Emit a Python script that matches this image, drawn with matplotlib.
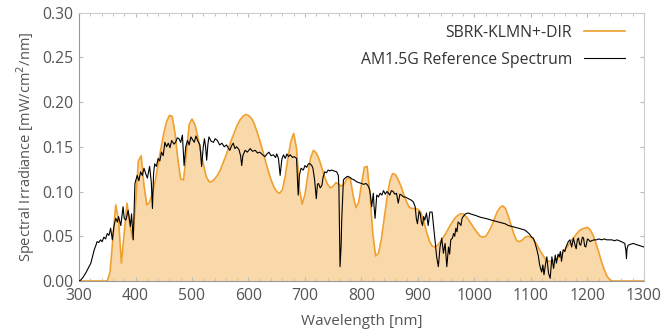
import numpy as np
import matplotlib
matplotlib.use("Agg")
import matplotlib.pyplot as plt
from matplotlib.ticker import MultipleLocator, FormatStrFormatter

plt.rcParams['font.family'] = ['Open Sans', 'DejaVu Sans']

# SBRK-KLMN+-DIR spectrum, sampled every 5 nm from 300 to 1300 nm
sbrk_wl = list(range(300, 1305, 5))
sbrk_val = [
    0, 0, 0, 0, 0, 0, 0, 0, 0, 0,
    0.000, 0.010, 0.048, 0.085, 0.068, 0.020, 0.053, 0.087, 0.063, 0.047,
    0.084, 0.134, 0.140, 0.107, 0.085, 0.088, 0.098, 0.112, 0.130, 0.148,
    0.165, 0.178, 0.185, 0.184, 0.165, 0.136, 0.114, 0.113, 0.142, 0.175,
    0.181, 0.175, 0.162, 0.146, 0.131, 0.117, 0.111, 0.111, 0.114, 0.118,
    0.124, 0.132, 0.140, 0.149, 0.158, 0.166, 0.174, 0.180, 0.184, 0.186,
    0.185, 0.182, 0.176, 0.167, 0.157, 0.146, 0.134, 0.123, 0.113, 0.105,
    0.100, 0.098, 0.102, 0.117, 0.138, 0.156, 0.165, 0.148, 0.103, 0.086,
    0.097, 0.118, 0.138, 0.146, 0.143, 0.136, 0.126, 0.116, 0.108, 0.104,
    0.106, 0.110, 0.108, 0.106, 0.109, 0.115, 0.115, 0.096, 0.082, 0.088,
    0.108, 0.127, 0.128, 0.097, 0.053, 0.028, 0.031, 0.046, 0.069, 0.092,
    0.111, 0.120, 0.119, 0.113, 0.106, 0.096, 0.088, 0.082, 0.081, 0.081,
    0.080, 0.077, 0.067, 0.055, 0.045, 0.039, 0.038, 0.040, 0.044, 0.049,
    0.054, 0.060, 0.065, 0.070, 0.073, 0.075, 0.075, 0.072, 0.068, 0.063,
    0.058, 0.054, 0.050, 0.049, 0.050, 0.055, 0.061, 0.069, 0.077, 0.082,
    0.084, 0.081, 0.072, 0.062, 0.052, 0.045, 0.044, 0.046, 0.049, 0.050,
    0.049, 0.046, 0.041, 0.035, 0.030, 0.025, 0.022, 0.022, 0.023, 0.024,
    0.027, 0.031, 0.035, 0.039, 0.044, 0.048, 0.052, 0.056, 0.058, 0.059,
    0.060, 0.057, 0.051, 0.042, 0.032, 0.021, 0.012, 0.005, 0.001,
    0, 0, 0, 0, 0, 0, 0, 0, 0, 0, 0, 0,
]

# AM1.5G reference spectrum
am15_wl = [
    300, 303, 307, 312, 316, 321, 325, 327, 330, 332, 335, 338, 341, 344, 347,
    350, 353, 356, 359, 362, 365, 368, 370, 374, 378, 380, 383, 387, 391, 393,
    396, 399, 403, 406, 409, 412, 415, 418, 421, 425, 428, 430, 432, 434, 437,
    440, 443, 446, 449, 452, 455, 458, 461, 464, 468, 471, 474, 477, 480, 483,
    486, 489, 492, 495, 498, 501, 504, 507, 510, 514, 517, 520, 522, 524, 526,
    528, 530, 534, 538, 541, 545, 549, 553, 557, 561, 564, 567, 570, 573, 576,
    579, 583, 586, 588, 590, 594, 598, 603, 607, 612, 616, 620, 625, 629, 633,
    636, 640, 644, 648, 650, 653, 656, 659, 662, 665, 668, 671, 674, 678, 681,
    685, 687, 688, 690, 693, 697, 700, 703, 706, 709, 712, 714, 717, 720, 722,
    724, 727, 730, 732, 735, 738, 741, 744, 747, 751, 756, 759, 760, 762, 764,
    765, 768, 771, 775, 779, 783, 787, 791, 795, 800, 804, 808, 811, 814, 816,
    818, 821, 822, 824, 827, 830, 833, 836, 839, 842, 845, 848, 850, 853, 856,
    859, 862, 865, 868, 871, 874, 877, 880, 883, 886, 889, 892, 895, 897, 899,
    902, 904, 906, 908, 910, 912, 915, 918, 921, 925, 927, 929, 931, 933, 936,
    939, 942, 945, 948, 951, 954, 956, 958, 961, 963, 965, 967, 969, 971, 974,
    976, 978, 980, 984, 989, 993, 998, 1003, 1007, 1012, 1019, 1025, 1030, 1036, 1042,
    1048, 1054, 1060, 1066, 1072, 1078, 1083, 1089, 1093, 1098, 1101, 1104, 1107, 1110, 1113,
    1115, 1117, 1119, 1121, 1123, 1126, 1128, 1131, 1134, 1137, 1140, 1143, 1145, 1148, 1150,
    1152, 1154, 1157, 1160, 1162, 1166, 1169, 1172, 1175, 1178, 1180, 1182, 1184, 1186, 1188,
    1191, 1193, 1195, 1197, 1200, 1202, 1205, 1207, 1212, 1216, 1220, 1225, 1230, 1234, 1239,
    1243, 1248, 1252, 1256, 1260, 1263, 1266, 1268, 1269, 1270, 1272, 1276, 1281, 1285, 1290,
    1295, 1300,
]
am15_val = [
    0.000, 0.001, 0.004, 0.009, 0.014, 0.020, 0.030, 0.035, 0.040, 0.044, 0.043, 0.046, 0.044, 0.049, 0.047,
    0.053, 0.051, 0.059, 0.046, 0.062, 0.070, 0.066, 0.072, 0.062, 0.083, 0.070, 0.068, 0.079, 0.061, 0.075,
    0.046, 0.109, 0.118, 0.112, 0.122, 0.118, 0.126, 0.120, 0.115, 0.128, 0.110, 0.081, 0.120, 0.131, 0.128,
    0.137, 0.134, 0.144, 0.140, 0.155, 0.150, 0.154, 0.149, 0.157, 0.153, 0.155, 0.160, 0.159, 0.155, 0.163,
    0.129, 0.150, 0.157, 0.152, 0.161, 0.158, 0.155, 0.162, 0.157, 0.152, 0.128, 0.150, 0.159, 0.150, 0.135,
    0.152, 0.161, 0.156, 0.155, 0.159, 0.157, 0.152, 0.154, 0.150, 0.152, 0.149, 0.146, 0.151, 0.154, 0.148,
    0.150, 0.147, 0.140, 0.129, 0.140, 0.146, 0.144, 0.148, 0.145, 0.146, 0.143, 0.144, 0.141, 0.139, 0.142,
    0.144, 0.140, 0.141, 0.138, 0.142, 0.137, 0.118, 0.136, 0.141, 0.137, 0.142, 0.139, 0.141, 0.138, 0.139,
    0.137, 0.110, 0.096, 0.118, 0.126, 0.124, 0.129, 0.127, 0.131, 0.131, 0.129, 0.126, 0.113, 0.092, 0.108,
    0.109, 0.104, 0.107, 0.116, 0.122, 0.121, 0.124, 0.123, 0.124, 0.123, 0.122, 0.118, 0.105, 0.016, 0.040,
    0.068, 0.113, 0.115, 0.117, 0.116, 0.114, 0.113, 0.111, 0.110, 0.109, 0.108, 0.109, 0.107, 0.103, 0.095,
    0.083, 0.098, 0.085, 0.070, 0.096, 0.094, 0.098, 0.096, 0.101, 0.097, 0.100, 0.098, 0.096, 0.101, 0.100,
    0.097, 0.098, 0.087, 0.097, 0.096, 0.094, 0.094, 0.093, 0.092, 0.091, 0.090, 0.088, 0.083, 0.070, 0.064,
    0.078, 0.075, 0.066, 0.062, 0.072, 0.068, 0.076, 0.062, 0.077, 0.077, 0.065, 0.053, 0.040, 0.027, 0.016,
    0.038, 0.048, 0.031, 0.042, 0.016, 0.038, 0.030, 0.046, 0.048, 0.053, 0.050, 0.059, 0.055, 0.066, 0.064,
    0.062, 0.070, 0.072, 0.075, 0.076, 0.075, 0.074, 0.073, 0.072, 0.071, 0.070, 0.069, 0.068, 0.067, 0.066,
    0.065, 0.064, 0.062, 0.061, 0.060, 0.059, 0.058, 0.057, 0.055, 0.052, 0.049, 0.048, 0.043, 0.036, 0.028,
    0.019, 0.014, 0.010, 0.018, 0.007, 0.020, 0.027, 0.009, 0.003, 0.027, 0.014, 0.029, 0.020, 0.030, 0.027,
    0.033, 0.022, 0.035, 0.033, 0.038, 0.044, 0.046, 0.038, 0.048, 0.040, 0.036, 0.046, 0.048, 0.041, 0.040,
    0.049, 0.048, 0.039, 0.038, 0.047, 0.046, 0.044, 0.045, 0.046, 0.046, 0.047, 0.046, 0.047, 0.046, 0.046,
    0.046, 0.045, 0.046, 0.045, 0.044, 0.043, 0.042, 0.034, 0.025, 0.036, 0.040, 0.041, 0.042, 0.041, 0.040,
    0.039, 0.038,
]

text_col = '#555555'
orange = '#f0a030'
fill_col = '#f9d9aa'

fig = plt.figure(figsize=(6.65, 3.32), dpi=100)
ax = fig.add_axes([0.1188, 0.1536, 0.8496, 0.8087])

ax.fill_between(sbrk_wl, sbrk_val, 0, color=fill_col, linewidth=0, zorder=1)
ax.plot(sbrk_wl, sbrk_val, color=orange, linewidth=1.2, label='SBRK-KLMN+-DIR', zorder=2)
ax.plot(am15_wl, am15_val, color='black', linewidth=0.8, label='AM1.5G Reference Spectrum', zorder=3)

ax.set_xlim(300, 1300)
ax.set_ylim(0, 0.30)
ax.xaxis.set_major_locator(MultipleLocator(100))
ax.xaxis.set_minor_locator(MultipleLocator(20))
ax.yaxis.set_major_locator(MultipleLocator(0.05))
ax.yaxis.set_major_formatter(FormatStrFormatter('%.2f'))

ax.tick_params(axis='both', which='both', direction='in', colors='#bbbbbb',
               labelcolor=text_col, labelsize=11.3, top=True, right=True)
ax.tick_params(which='major', length=3)
ax.tick_params(which='minor', length=2)
ax.tick_params(axis='x', pad=5)
ax.tick_params(axis='y', pad=4)

for s in ['left', 'bottom']:
    ax.spines[s].set_color('#999999')
for s in ['top', 'right']:
    ax.spines[s].set_color('#cccccc')

ax.set_xlabel('Wavelength [nm]', color=text_col, fontsize=11, labelpad=7)
ax.set_ylabel('Spectral Irradiance [mW/cm$^2$/nm]', color=text_col, fontsize=10.5, labelpad=4)

leg = ax.legend(loc='upper right', bbox_to_anchor=(0.978, 0.978), frameon=False,
                markerfirst=False, fontsize=11.3, handlelength=2.6, borderaxespad=0,
                labelspacing=0.7)
for t in leg.get_texts():
    t.set_color('#333333')

fig.savefig('out.png', dpi=100)
